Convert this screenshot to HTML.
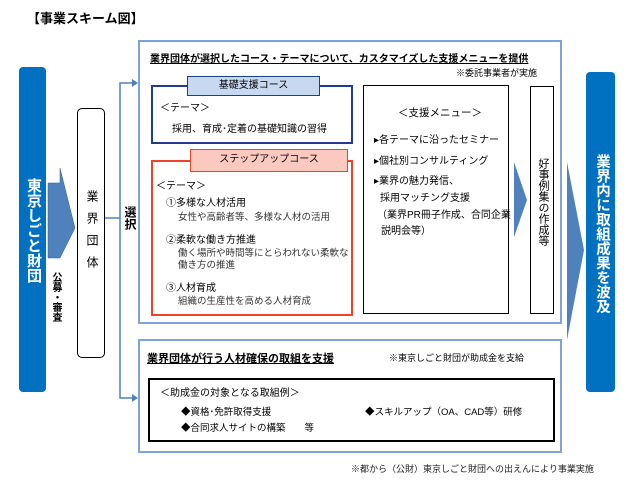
<!DOCTYPE html>
<html><head><meta charset="utf-8"><style>
*{margin:0;padding:0;box-sizing:border-box}
body{width:640px;height:480px;background:#fff;position:relative;overflow:hidden;font-family:"Liberation Sans","Noto Sans CJK JP",sans-serif;color:#000}
.a{position:absolute;white-space:nowrap}
.v{writing-mode:vertical-rl;text-orientation:upright}
.b{font-weight:bold}
</style></head><body>
<div class="a b" style="left:27px;top:8px;font-size:13px">【事業スキーム図】</div>

<div class="a" style="left:19px;top:67px;width:27px;height:325px;background:#0070c0;border-radius:4px"></div>
<div class="a v b" style="left:23px;top:178px;font-size:15px;color:#fff">東京しごと財団</div>

<svg class="a" style="left:0;top:0" width="640" height="480">
<polygon points="48,183 60,183 60,168 75,228 60,258 48,258" fill="#4f81bd" stroke="#385d8a" stroke-width="0.5"/>
<polyline points="105,218 120,218" fill="none" stroke="#4f81bd" stroke-width="1.5"/>
<polyline points="136,83 120,83 120,398 136,398" fill="none" stroke="#4f81bd" stroke-width="1.5"/>
<polygon points="138,83 132,79 132,87" fill="#4f81bd"/>
<polygon points="138,398 132,394 132,402" fill="#4f81bd"/>
<polygon points="514,162 527,200 514,237" fill="#4f81bd"/>
<polygon points="567,162 584,250 567,340" fill="#4f81bd"/>
</svg>
<div class="a v" style="left:48px;top:272px;font-size:10px;font-weight:bold">公募・審査</div>

<div class="a" style="left:77px;top:108px;width:28px;height:250px;border:1.5px solid #000;border-radius:5px"></div>
<div class="a v" style="left:84px;top:190px;font-size:12px;letter-spacing:10px">業界団体</div>
<div class="a v b" style="left:122px;top:206px;font-size:12px">選択</div>

<div class="a" style="left:138px;top:40px;width:424px;height:284px;border:2px solid #7fa3d6"></div>
<div class="a b" style="left:150px;top:50px;font-size:10px;text-decoration:underline">業界団体が選択したコース・テーマについて、カスタマイズした支援メニューを提供</div>
<div class="a" style="left:456px;top:66px;font-size:9px">※委託事業者が実施</div>

<div class="a" style="left:151px;top:85px;width:202px;height:59px;border:2px solid #1f3d8a"></div>
<div class="a" style="left:187px;top:76px;width:133px;height:20px;border:1.5px solid #1f3d8a;background:#c6d9f1;font-size:10px;text-align:center;line-height:17px">基礎支援コース</div>
<div class="a" style="left:160px;top:99px;font-size:10px">＜テーマ＞</div>
<div class="a" style="left:172px;top:120px;font-size:10px">採用、育成･定着の基礎知識の習得</div>

<div class="a" style="left:151px;top:160px;width:202px;height:156px;border:2px solid #e8452c"></div>
<div class="a" style="left:190px;top:149px;width:158px;height:23px;border:1.5px solid #e8452c;background:#fbc9c0;font-size:10px;text-align:center;line-height:20px">ステップアップコース</div>
<div class="a" style="left:156px;top:177px;font-size:10px">＜テーマ＞</div>
<div class="a" style="left:166px;top:194px;font-size:10px">①多様な人材活用</div>
<div class="a" style="left:178px;top:209px;font-size:9.5px;color:#333">女性や高齢者等、多様な人材の活用</div>
<div class="a" style="left:166px;top:231px;font-size:10px">②柔軟な働き方推進</div>
<div class="a" style="left:178px;top:245px;font-size:9.5px;color:#333">働く場所や時間等にとらわれない柔軟な</div>
<div class="a" style="left:178px;top:257px;font-size:9.5px;color:#333">働き方の推進</div>
<div class="a" style="left:166px;top:279px;font-size:10px">③人材育成</div>
<div class="a" style="left:178px;top:293px;font-size:9.5px;color:#333">組織の生産性を高める人材育成</div>

<div class="a" style="left:363px;top:85px;width:146px;height:229px;border:1.5px solid #000"></div>
<div class="a" style="left:398px;top:105px;font-size:10.5px">＜支援メニュー＞</div>
<div class="a" style="left:374px;top:131px;font-size:10px">▸各テーマに沿ったセミナー</div>
<div class="a" style="left:374px;top:152px;font-size:10px">▸個社別コンサルティング</div>
<div class="a" style="left:374px;top:172px;font-size:10px">▸業界の魅力発信、</div>
<div class="a" style="left:380px;top:189px;font-size:10px">採用マッチング支援</div>
<div class="a" style="left:377px;top:206px;font-size:10px">（業界PR冊子作成、合同企業</div>
<div class="a" style="left:381px;top:222px;font-size:10px">説明会等）</div>

<div class="a" style="left:530px;top:86px;width:24px;height:228px;border:1.5px solid #000"></div>
<div class="a v" style="left:535px;top:158px;font-size:11px">好事例集の作成等</div>

<div class="a" style="left:586px;top:72px;width:29px;height:320px;background:#0070c0;border-radius:4px"></div>
<div class="a v b" style="left:592px;top:154px;font-size:14.5px;color:#fff">業界内に取組成果を波及</div>

<div class="a" style="left:138px;top:339px;width:424px;height:114px;border:2px solid #7fa3d6"></div>
<div class="a b" style="left:147px;top:350px;font-size:11px;text-decoration:underline">業界団体が行う人材確保の取組を支援</div>
<div class="a" style="left:389px;top:351px;font-size:9px">※東京しごと財団が助成金を支給</div>
<div class="a" style="left:148px;top:378px;width:407px;height:64px;border:2px solid #000"></div>
<div class="a" style="left:160px;top:384px;font-size:10px">＜助成金の対象となる取組例＞</div>
<div class="a" style="left:181px;top:404px;font-size:9.5px">◆資格･免許取得支援</div>
<div class="a" style="left:365px;top:404px;font-size:9.5px">◆スキルアップ（OA、CAD等）研修</div>
<div class="a" style="left:181px;top:420px;font-size:9.5px">◆合同求人サイトの構築　　等</div>

<div class="a" style="left:351px;top:462px;font-size:9px;color:#222">※都から（公財）東京しごと財団への出えんにより事業実施</div>
</body></html>
